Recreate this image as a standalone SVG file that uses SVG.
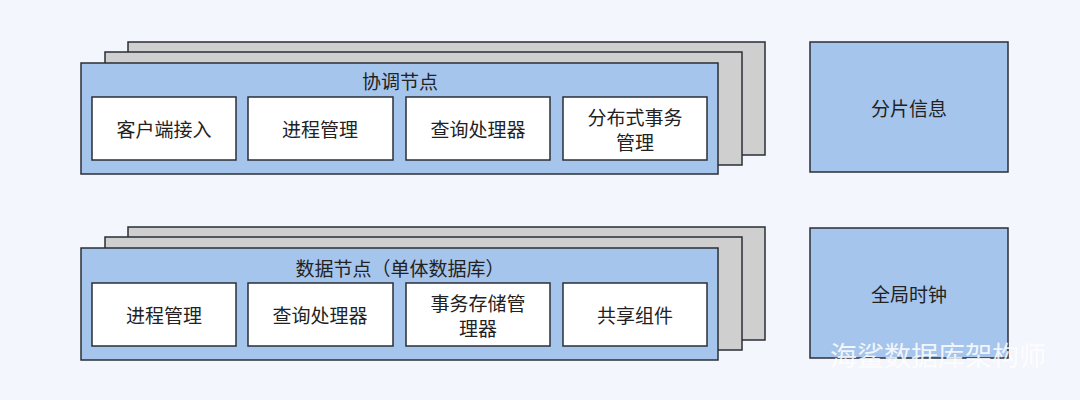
<svg xmlns="http://www.w3.org/2000/svg" width="1080" height="400" viewBox="0 0 1080 400">
<style>
text{font-family:"Noto Sans CJK SC","Noto Sans",sans-serif;font-size:19px;fill:#222;text-anchor:middle;dominant-baseline:central}
.g{fill:#cfcfcf;stroke:#2a2f36;stroke-width:1.5}
.b{fill:#a6c5ec;stroke:#2a2f36;stroke-width:1.5}
.w{fill:#fff;stroke:#2a2f36;stroke-width:1.5}
.wm{fill:#ffffff;opacity:.85;font-size:27px;text-anchor:start}
</style>
<rect width="1080" height="400" fill="#f3f6fc"/>
<g id="coord">
<rect class="g" x="128" y="42" width="637" height="113"/>
<rect class="g" x="105" y="52" width="637" height="113"/>
<rect class="b" x="81" y="63" width="637" height="111"/>
<text x="400" y="80">协调节点</text>
<rect class="w" x="92" y="97" width="144" height="63"/><text x="164" y="128">客户端接入</text>
<rect class="w" x="248" y="97" width="145" height="63"/><text x="320" y="128">进程管理</text>
<rect class="w" x="406" y="97" width="144" height="63"/><text x="478" y="128">查询处理器</text>
<rect class="w" x="563" y="97" width="144" height="63"/><text x="635" y="116">分布式事务</text><text x="635" y="141">管理</text>
</g>
<g id="shard"><rect class="b" x="810" y="42" width="198" height="130"/><text x="909" y="107">分片信息</text></g>
<g id="data">
<rect class="g" x="128" y="227" width="637" height="113"/>
<rect class="g" x="105" y="237" width="637" height="113"/>
<rect class="b" x="81" y="248" width="637" height="112"/>
<text x="400" y="267">数据节点（单体数据库）</text>
<rect class="w" x="92" y="283" width="144" height="63"/><text x="164" y="314">进程管理</text>
<rect class="w" x="248" y="283" width="145" height="63"/><text x="320" y="314">查询处理器</text>
<rect class="w" x="406" y="283" width="144" height="63"/><text x="478" y="302">事务存储管</text><text x="478" y="327">理器</text>
<rect class="w" x="563" y="283" width="144" height="63"/><text x="635" y="314">共享组件</text>
</g>
<g id="clock"><rect class="b" x="810" y="228" width="198" height="130"/><text x="909" y="293">全局时钟</text></g>
<g id="connectors"/>
<text class="wm" x="830" y="354">海鲨数据库架构师</text>
</svg>
